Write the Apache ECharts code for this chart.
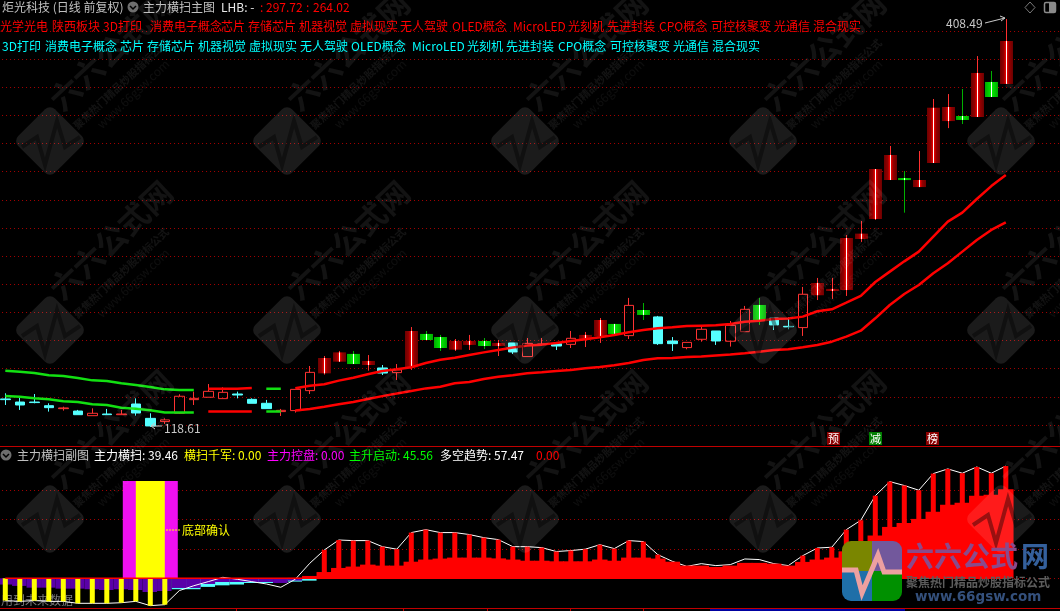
<!DOCTYPE html>
<html><head><meta charset="utf-8">
<style>html,body{margin:0;padding:0;background:#000}#c{width:1060px;height:611px}</style>
<script src="https://cdn.jsdelivr.net/npm/echarts@6/dist/echarts.min.js"></script>
</head><body><div id="c"></div>
<script>
const FONT='"Noto Sans CJK SC","Liberation Sans",sans-serif';
const kinds='c c c c h c h c h c c h h h h h c c c h h h r r g r c h r g g r r g r c h h c h r r g h g c c h h c h h g c c h r r r r r r g r r r g r g r'.split(' ');
const opens=[138.5,136.3,136.3,133.7,131.6,129.9,126.6,127.8,127.3,134.9,
124.7,122.4,128.3,138.0,139.7,138.7,142.0,138.2,135.4,129.5,
130.2,144.4,156.7,165.0,170.5,162.6,160.5,157.2,161.0,184.7,
182.5,173.5,176.9,179.7,176.1,178.3,168.6,177.1,177.8,177.3,
181.1,183.2,191.8,183.5,201.7,196.8,179.7,175.0,180.9,186.8,
179.5,186.3,205.3,196.0,190.1,189.2,212.2,215.2,215.9,252.2,
266.4,294.1,295.5,289.1,306.2,336.0,339.6,338.9,363.8,362.4];
const closes=[138.0,134.2,135.9,132.3,132.1,127.3,128.3,127.3,127.8,128.5,
119.3,123.6,140.4,138.9,143.9,143.2,141.3,135.4,131.6,130.4,
145.3,157.4,167.6,171.6,163.3,165.5,156.9,159.1,186.8,180.4,
174.7,179.7,179.7,176.1,178.3,171.9,178.0,177.6,176.1,181.6,
184.0,194.6,184.7,205.0,198.2,177.8,177.8,178.7,188.0,179.7,
190.8,202.2,194.6,191.1,189.7,212.9,220.9,216.7,252.9,256.0,
301.9,311.9,295.0,294.1,345.5,346.0,336.8,370.2,353.1,392.9];
const lows=[134.2,130.7,135.4,129.5,130.2,127.3,126.6,127.1,127.1,126.6,
118.61,120.7,127.8,134.2,139.7,138.7,138.9,135.4,131.6,126.4,
128.8,142.0,155.8,164.8,163.3,158.6,155.5,152.0,159.1,180.4,
172.6,172.6,173.3,174.0,169.0,170.5,168.6,176.9,173.3,174.7,
175.4,178.3,184.0,181.1,194.6,176.9,172.6,173.8,179.2,176.9,
175.7,186.3,191.1,187.5,188.0,183.3,208.8,209.6,211.7,250.1,
265.7,294.1,270.9,289.1,306.2,331.0,333.9,338.9,353.1,362.4];
const highs=[142.5,140.6,142.0,135.4,133.0,130.7,131.8,131.4,130.7,138.9,
128.3,124.7,141.8,143.7,149.1,146.8,143.7,138.9,137.8,131.4,
145.3,161.9,169.0,172.6,172.6,169.7,162.6,163.3,189.6,186.8,
184.0,181.1,184.0,181.8,180.4,178.3,181.8,181.8,179.0,186.8,
186.1,196.0,191.8,210.3,206.7,197.5,182.5,178.7,189.9,186.8,
193.9,204.6,210.3,196.0,196.5,218.1,224.5,224.5,255.0,265.0,
301.9,318.3,300.5,314.7,351.7,355.2,358.8,382.2,371.6,408.49];
const ma1=[158.6,157.9,157.0,155.3,154.8,153.4,151.7,151.3,149.6,148.4,147.0,145.3,144.9,144.9,
145.8,145.8,145.8,146.3,145.8,145.8,146.1,147.9,148.9,151.5,
153.6,156.0,158.4,159.6,161.0,164.0,166.4,167.8,169.7,171.6,173.3,175.0,176.4,177.1,178.3,179.7,180.9,182.3,184.0,185.9,187.5,188.7,189.4,190.4,
190.6,190.8,191.8,193.4,194.1,195.3,195.6,197.0,200.8,202.2,206.9,211.7,221.6,229.0,236.3,243.2,253.9,264.5,270.9,280.6,289.8,297.72];
const ma2=[140.6,140.1,139.0,138.2,136.8,136.3,134.7,134.2,132.3,131.6,130.4,128.8,128.8,128.8,
129.5,129.5,129.5,129.5,129.5,129.5,130.2,131.4,133.0,134.7,
136.3,138.4,140.5,142.3,144.2,146.0,147.2,149.6,150.6,152.7,154.3,155.3,156.7,157.4,158.4,159.1,160.3,161.2,162.4,164.0,166.2,167.4,167.6,168.3,
168.6,169.3,170.0,170.9,172.1,173.3,173.8,175.2,176.9,179.2,182.8,187.0,195.8,205.3,213.1,219.5,227.8,234.9,243.2,251.5,258.6,264.02];
const greenSpans=[[0,13],[18,19]], redSpans=[[14,17],[20,69]];
const whiteLine=[-11.4,-11.8,-11.4,-11.8,-11.8,-12.8,-12.8,-12.8,-12.5,-11.8,-14.0,-13.5,
-6.3,-3.8,-1.7,0.5,-0.5,-1.7,-2.9,-4.6,-0.5,7.7,14.5,19.6,
19.3,19.3,16.2,14.9,23.4,24.9,23.4,23.4,22.4,20.8,19.8,16.2,16.2,15.7,13.7,14.2,14.9,17.2,15.2,19.3,18.8,12.1,8.7,6.1,
7.5,6.5,7.0,9.9,9.6,7.5,6.5,
11.6,15.5,15.9,24.9,29.7,42.3,49.5,47.5,45.1,53.6,56.0,53.8,57.0,53.8,57.47];
const redNarrow=[null,null,null,null,null,null,null,null,null,null,null,null,null,null,null,null,null,null,null,null,null,null,
14.5,19.6,19.3,19.3,16.2,14.9,23.4,24.9,23.4,23.4,22.4,20.8,19.8,16.2,16.2,15.7,13.7,14.2,14.9,17.2,15.2,19.3,18.8,12.1,
null,null,null,null,null,null,null,null,null,
11.6,15.5,15.9,24.9,29.7,42.3,49.5,47.5,45.1,53.6,56.0,53.8,57.0,53.8,57.47];
const redSolid=[null,null,null,null,null,null,null,null,null,null,null,null,null,null,null,null,null,null,null,null,
0.2,1.2,3.2,5.3,6.0,7.0,6.5,6.5,8.5,9.6,10.1,10.6,10.6,10.6,10.2,9.6,9.0,9.0,8.7,8.7,8.7,9.6,9.0,10.6,10.6,10.1,8.5,6.5,
6.5,5.8,6.5,7.9,7.9,7.5,6.5,
8.4,9.6,10.6,13.8,18.9,21.9,26.3,28.3,30.4,34.1,37.7,38.7,42.3,42.8,45.56];
const purpleBars=[-3.2,-3.9,-4.8,-4.8,-5.3,-5.3,-5.6,-6.0,-5.6,-6.0,-7.0,-6.5,-4.95,-4.95,-2.9,-1.9,-1.9,-1.9,-1.9,-2.4,-1.2,-0.2];
const cyanBars=[null,null,null,null,null,null,null,null,null,null,null,null,-5.6,-5.6,-4.4,-3.6,-3.2,-2.4,-2.4,null,-1.7,-1.2];
const yellowSmall=[-11.4,-11.8,-11.4,-11.8,-11.8,-12.8,-12.8,-12.8,-12.5,-11.8,-14.0,-13.5];
const bottomSignal=[null,null,null,null,null,null,null,null,null,null,49.8];
const zeroLine=whiteLine.map(()=>0);
const categories=Array.from({length:74},(_,i)=>'D'+(i+1));
const subTicks=[236,403,487,570,643];
const wmCols=[50,287,525,763,1001], wmRows=[141,330,519];
const redConcepts=['光学光电','陕西板块','3D打印','消费电子概念','芯片','存储芯片','机器视觉','虚拟现实','无人驾驶','OLED概念','MicroLED','光刻机','先进封装','CPO概念','可控核聚变','光通信','混合现实'];
const cyanConcepts=['3D打印','消费电子概念','芯片','存储芯片','机器视觉','虚拟现实','无人驾驶','OLED概念','MicroLED','光刻机','先进封装','CPO概念','可控核聚变','光通信','混合现实'];
const redConceptX=[0,52,103,150,221,248,299,350,400,452,513,568,607,659,711,774,813];
const cyanConceptX=[2,45,120,147,198,249,300,351,412,467,506,558,610,673,712];

const idx=opens.map((_,i)=>i);
const plainData=idx.map(i=>(kinds[i]==='h'||kinds[i]==='c')?[opens[i],closes[i],lows[i],highs[i]]:'-');
const hotData=idx.filter(i=>kinds[i]==='r'||kinds[i]==='g').map(i=>[i,opens[i],closes[i],lows[i],highs[i]]);
function span(arr,spans){return arr.map((v,i)=>spans.some(s=>i>=s[0]&&i<=s[1])?v:null);}
const redGrad=new echarts.graphic.LinearGradient(0,0,1,0,[{offset:0,color:'#6c0000'},{offset:.3,color:'#960000'},{offset:.42,color:'#e00000'},{offset:.58,color:'#e00000'},{offset:.7,color:'#960000'},{offset:1,color:'#6c0000'}]);
const greenGrad=new echarts.graphic.LinearGradient(0,0,1,0,[{offset:0,color:'#00a800'},{offset:.5,color:'#00f000'},{offset:1,color:'#00a800'}]);
function renderHot(p,api){
  const i=api.value(0),o=api.value(1),c=api.value(2),l=api.value(3),h=api.value(4);
  const up=c>=o,t=api.coord([i,Math.max(o,c)]),b=api.coord([i,Math.min(o,c)]);
  const lo=api.coord([i,l]),hi=api.coord([i,h]);
  const x=Math.round(t[0])+.5,wick=up?'#ff3030':'#00b000';
  const H=Math.max(b[1]-t[1],2);
  return {type:'group',children:[
    {type:'line',shape:{x1:x,y1:hi[1],x2:x,y2:lo[1]},style:{stroke:wick,lineWidth:1}},
    {type:'rect',shape:{x:x-6.5,y:t[1],width:13,height:H},style:{fill:up?redGrad:greenGrad}},
    {type:'line',shape:{x1:x,y1:t[1],x2:x,y2:t[1]+H},style:{stroke:'#ffffff',lineWidth:1}}
  ]};
}
const bar=(name,data,xi,width,color,z)=>({name,type:'bar',data,xAxisIndex:xi,yAxisIndex:1,barWidth:width,barGap:'-100%',z,itemStyle:{color},silent:true});
const line=(name,data,color,xi,yi,w,z)=>({name,type:'line',data,xAxisIndex:xi,yAxisIndex:yi,showSymbol:false,symbol:'none',connectNulls:false,lineStyle:{color,width:w},z,silent:true});

const G=[];
const txt=(t,x,y,fill,size,extra)=>G.push(Object.assign({type:'text',x,y,z:60,silent:true,style:{text:t,fill,font:(size||12)+'px '+FONT,textVerticalAlign:'middle',verticalAlign:'middle'}},extra||{}));
G.push({type:'rect',shape:{x:0,y:446,width:1060,height:1},style:{fill:'#c00000'},z:1});
G.push({type:'rect',shape:{x:0,y:608,width:1060,height:1},style:{fill:'#c00000'},z:1});
subTicks.forEach(x=>G.push({type:'rect',shape:{x,y:608,width:1,height:3},style:{fill:'#c00000'},z:1}));
G.push({type:'rect',shape:{x:710,y:609,width:195,height:2},style:{fill:'#0000a0'},z:1});
txt('用到未来数据',1,600,'#7a7a7a',12,{z:1});
txt('炬光科技 (日线 前复权)',2,7,'#c0c0c0');
txt('主力横扫主图',143,7,'#c0c0c0');
txt('LHB: -',221,7,'#e8e8e8');
txt(':',260,7,'#ff0000');txt('297.72',266,7,'#ff0000');txt(':',306,7,'#ff0000');txt('264.02',313,7,'#ff0000');
redConcepts.forEach((t,i)=>txt(t,redConceptX[i],26,'#ff0000'));
cyanConcepts.forEach((t,i)=>txt(t,cyanConceptX[i],46,'#00ffff'));
txt('主力横扫副图',17,455,'#c0c0c0');
txt('主力横扫: 39.46',94,455,'#ffffff');
txt('横扫千军: 0.00',184,455,'#ffff00');
txt('主力控盘: 0.00',267,455,'#ff00ff');
txt('主升启动: 45.56',349,455,'#00ff00');
txt('多空趋势: 57.47',440,455,'#ffffff');
txt('0.00',536,455,'#ff0000');
txt('底部确认',182,530,'#ffff00');
G.push({type:'line',z:60,shape:{x1:166,y1:530,x2:181,y2:530},style:{stroke:'#ffff00',lineWidth:1,lineDash:[2,1]}});
txt('408.49',946,23,'#c8c8c8');
G.push({type:'polyline',z:60,shape:{points:[[985,23],[1005,18],[1000,16]]},style:{stroke:'#c8c8c8',fill:'none',lineWidth:1}});
G.push({type:'polyline',z:60,shape:{points:[[1005,18],[1001,21]]},style:{stroke:'#c8c8c8',fill:'none',lineWidth:1}});
txt('118.61',164,428,'#c8c8c8');
G.push({type:'polyline',z:60,shape:{points:[[162,426],[151,426],[155,423]]},style:{stroke:'#c8c8c8',fill:'none',lineWidth:1}});
G.push({type:'polyline',z:60,shape:{points:[[151,426],[155,429]]},style:{stroke:'#c8c8c8',fill:'none',lineWidth:1}});
[['预',827,'#8c0000'],['减',869,'#008000'],['榜',926,'#8c0000']].forEach(a=>{
  G.push({type:'rect',z:60,shape:{x:a[1],y:432,width:13,height:13},style:{fill:a[2]}});
  txt(a[0],a[1]+1,438.5,'#ffffff',11);
});
[[133,7],[6,455]].forEach(c=>{
  G.push({type:'circle',z:60,shape:{cx:c[0],cy:c[1],r:5.5},style:{fill:'#6e6e6e'}});
  G.push({type:'polyline',z:61,shape:{points:[[c[0]-3,c[1]-1],[c[0],c[1]+2],[c[0]+3,c[1]-1]]},style:{stroke:'#000',fill:'none',lineWidth:1.5}});
});
G.push({type:'polygon',z:60,shape:{points:[[1030,2],[1035,7.5],[1030,13],[1025,7.5]]},style:{stroke:'#7a7a7a',fill:'none',lineWidth:1}});
G.push({type:'rect',z:60,shape:{x:1044.5,y:2.5,width:11,height:10,r:1.5},style:{stroke:'#8a8a8a',fill:'none',lineWidth:1.5}});
G.push({type:'rect',z:61,shape:{x:1049,y:3,width:6,height:9},style:{fill:'#8a8a8a'}});
// watermarks
wmRows.forEach(ry=>wmCols.forEach(cx=>{
  const W='rgba(255,255,255,0.105)',T='rgba(255,255,255,0.075)';
  const mid={textAlign:'center',align:'center',textVerticalAlign:'middle',verticalAlign:'middle'};
  G.push({type:'rect',z:40,x:cx,y:ry,rotation:Math.PI/4,silent:true,shape:{x:-26,y:-26,width:52,height:52,r:7},style:{fill:W}});
  G.push({type:'polyline',z:41,x:cx,y:ry,silent:true,shape:{points:[[-28,6],[-13,-4],[-5,24],[7,-20],[15,6],[30,-4]]},style:{stroke:'rgba(0,0,0,0.4)',fill:'none',lineWidth:4}});
  G.push({type:'text',z:40,x:cx+61,y:ry-90,rotation:Math.PI*0.24,silent:true,style:Object.assign({text:'六六公式网',fill:T,font:'bold 31px '+FONT},mid)});
  G.push({type:'text',z:40,x:cx+71,y:ry-57,rotation:Math.PI*0.24,silent:true,style:Object.assign({text:'聚焦热门精品炒股指标公式',fill:T,font:'bold 10.5px '+FONT},mid)});
  G.push({type:'text',z:40,x:cx+83,y:ry-47,rotation:Math.PI*0.24,silent:true,style:Object.assign({text:'www.66gsw.com',fill:'rgba(255,255,255,0.055)',font:'12px '+FONT},mid)});
}));
// logo
const lx=842,ly=541;
[[0,0,30,30,'#7a8600',[9,0,0,0]],[30,0,30,30,'#72589c',[0,9,0,0]],[0,30,30,30,'#1f6fa8',[0,0,0,9]],[30,30,30,30,'#009000',[0,0,9,0]]].forEach(a=>
  G.push({type:'rect',z:70,silent:true,shape:{x:lx+a[0],y:ly+a[1],width:a[2],height:a[3],r:a[5]},style:{fill:a[4]}}));
G.push({type:'polyline',z:71,silent:true,shape:{points:[[lx,ly+29],[lx+14,ly+29],[lx+20,ly+52],[lx+36,ly+14],[lx+42,ly+31],[lx+60,ly+31]]},style:{stroke:'#eda0a0',fill:'none',lineWidth:5}});
G.push({type:'text',z:71,x:906,y:556,silent:true,style:{text:'六六公式',fill:'#8a4a8c',font:'bold 28px '+FONT,textVerticalAlign:'middle',verticalAlign:'middle'}});
G.push({type:'text',z:71,x:1021,y:556,silent:true,style:{text:'网',fill:'#34609c',font:'bold 28px '+FONT,textVerticalAlign:'middle',verticalAlign:'middle'}});
G.push({type:'text',z:71,x:906,y:582,silent:true,style:{text:'聚焦热门精品炒股指标公式',fill:'#5c5c5c',font:'bold 12px '+FONT,textVerticalAlign:'middle',verticalAlign:'middle'}});
G.push({type:'text',z:71,x:915,y:597,silent:true,style:{text:'www.66gsw.com',fill:'#34507c',font:'bold 13.5px "DejaVu Sans",sans-serif',textVerticalAlign:'middle',verticalAlign:'middle'}});

const hiddenX=gi=>({type:'category',gridIndex:gi,data:categories,show:false,boundaryGap:true});
const dotted={show:true,lineStyle:{color:'#a80000',type:[1,3],width:1},showMinLine:false,showMaxLine:false};
const yAxis=(gi,min,max,interval)=>({type:'value',gridIndex:gi,min,max,interval,scale:false,axisLine:{show:false},axisTick:{show:false},axisLabel:{show:false},splitLine:dotted});
const chart=echarts.init(document.getElementById('c'),null,{renderer:'canvas'});
chart.setOption({
  animation:false,backgroundColor:'#000',
  grid:[{left:-1.95,width:1073,top:2.9,height:450.2,outerBoundsMode:'none',containLabel:false},{left:-1.95,width:1073,top:461.1,height:146.5,outerBoundsMode:'none',containLabel:false}],
  xAxis:[hiddenX(0),hiddenX(1),hiddenX(1),hiddenX(1),hiddenX(1)],
  yAxis:[yAxis(0,100,420,20),yAxis(1,-15,60,15)],
  graphic:{elements:G},
  series:[
    {name:'plain',type:'candlestick',data:plainData,xAxisIndex:0,yAxisIndex:0,barWidth:10,z:3,silent:true,
     itemStyle:{color:'transparent',color0:'#55ffff',borderColor:'#ff3232',borderColor0:'#55ffff',borderWidth:1}},
    {name:'hot',type:'custom',data:hotData,xAxisIndex:0,yAxisIndex:0,renderItem:renderHot,encode:{x:0,y:[1,2,3,4]},z:3,silent:true,clip:false},
    line('ma1Green',span(ma1,greenSpans),'#12e012',0,0,2.5,4),
    line('ma1Red',span(ma1,redSpans),'#ff0000',0,0,2.5,4),
    line('ma2Green',span(ma2,greenSpans),'#12e012',0,0,2.5,4),
    line('ma2Red',span(ma2,redSpans),'#ff0000',0,0,2.5,4),
    bar('cyan',cyanBars,1,14.5,'#55ffff',2),
    bar('purple',purpleBars,1,14.5,'#5a00a8',2),
    bar('solid',redSolid,1,15.5,'#ff0000',5),
    line('white',whiteLine,'#ffffff',1,1,1,3),
    bar('yellowSmall',yellowSmall,2,5,'#ffff00',5),
    bar('redNarrow',redNarrow,2,5,'#ff0000',5),
    bar('magenta',bottomSignal,3,55,'#f010f0',5),
    bar('yellowWide',bottomSignal,4,29,'#ffff00',6),
    line('zero',zeroLine,'#ff0000',1,1,1.5,6)
  ]
});
</script></body></html>
